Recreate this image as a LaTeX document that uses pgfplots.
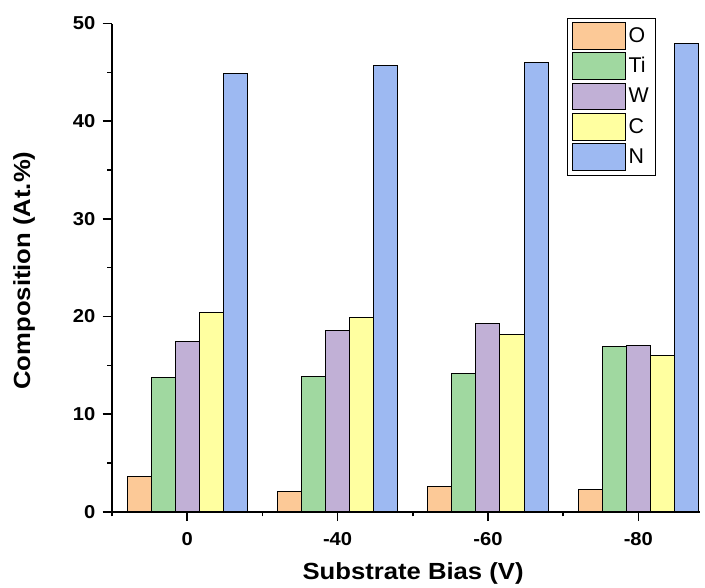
\documentclass[border=0pt]{standalone}
\usepackage{fontspec}
\setmainfont{Liberation Sans}
\newfontfamily\tickfont[FakeStretch=1.08]{Liberation Sans}
\newfontfamily\labelfont[FakeStretch=1.1]{Liberation Sans}
\usepackage{pgfplots}
\pgfplotsset{compat=1.18}

\definecolor{cO}{RGB}{252,201,151}
\definecolor{cTi}{RGB}{160,216,160}
\definecolor{cW}{RGB}{193,176,214}
\definecolor{cC}{RGB}{255,255,160}
\definecolor{cN}{RGB}{157,185,242}

\pgfplotsset{
  boxleg/.style={legend image code/.code={\draw[##1,line width=0.75pt] (0pt,-10pt) rectangle (40pt,10pt);}},
}

\begin{document}
\begin{tikzpicture}
\path[use as bounding box] (0,0) rectangle (528.75pt,440.25pt);
\begin{axis}[
  at={(84pt,56.4pt)}, anchor=south west,
  scale only axis, width=441pt, height=366.2pt,
  xmin=-0.5, xmax=3.41, ymin=0, ymax=50,
  axis x line*=bottom, axis y line*=left,
  axis line style={line width=1.4pt},
  xtick={0,1,2,3}, xticklabels={0,-40,-60,-80},
  minor xtick={-0.5,0.5,1.5,2.5},
  ytick={0,10,20,30,40,50}, minor ytick={5,15,25,35,45},
  tick align=outside, major tick length=7pt, minor tick length=3.5pt,
  every tick/.style={line width=1.2pt, black},
  ticklabel style={font=\tickfont\fontsize{14}{16}\selectfont\bfseries},
  xticklabel style={yshift=-5pt},
  yticklabel style={xshift=-2pt},
  /pgf/number format/assume math mode=true,
  xlabel={Substrate Bias (V)}, ylabel={Composition (At.\%)},
  every axis x label/.style={at={(axis description cs:0.512,-0.126)}, anchor=center},
  every axis y label/.style={at={(axis description cs:-0.1497,0.494)}, rotate=90, anchor=center},
  label style={font=\labelfont\fontsize{17.5}{20}\selectfont\bfseries},
  legend style={at={(0.774,1.012)}, anchor=north west,
    draw=black, line width=0.6pt, font=\fontsize{16}{18}\selectfont,
    inner sep=3pt, row sep=2pt, legend cell align=left},
  bar width=0.16,
]
\addplot[ybar, bar shift=-0.32, fill=cO, draw=black, line width=0.75pt, boxleg] coordinates {(0,3.6) (1,2.1) (2,2.6) (3,2.3)};
\addplot[ybar, bar shift=-0.16, fill=cTi, draw=black, line width=0.75pt, boxleg] coordinates {(0,13.8) (1,13.9) (2,14.2) (3,16.9)};
\addplot[ybar, bar shift=0, fill=cW, draw=black, line width=0.75pt, boxleg] coordinates {(0,17.45) (1,18.55) (2,19.25) (3,17.05)};
\addplot[ybar, bar shift=0.16, fill=cC, draw=black, line width=0.75pt, boxleg] coordinates {(0,20.45) (1,19.9) (2,18.2) (3,16.0)};
\addplot[ybar, bar shift=0.32, fill=cN, draw=black, line width=0.75pt, boxleg] coordinates {(0,44.85) (1,45.7) (2,46.0) (3,48.0)};
\legend{O,Ti,W,C,N}
\end{axis}
\end{tikzpicture}
\end{document}
